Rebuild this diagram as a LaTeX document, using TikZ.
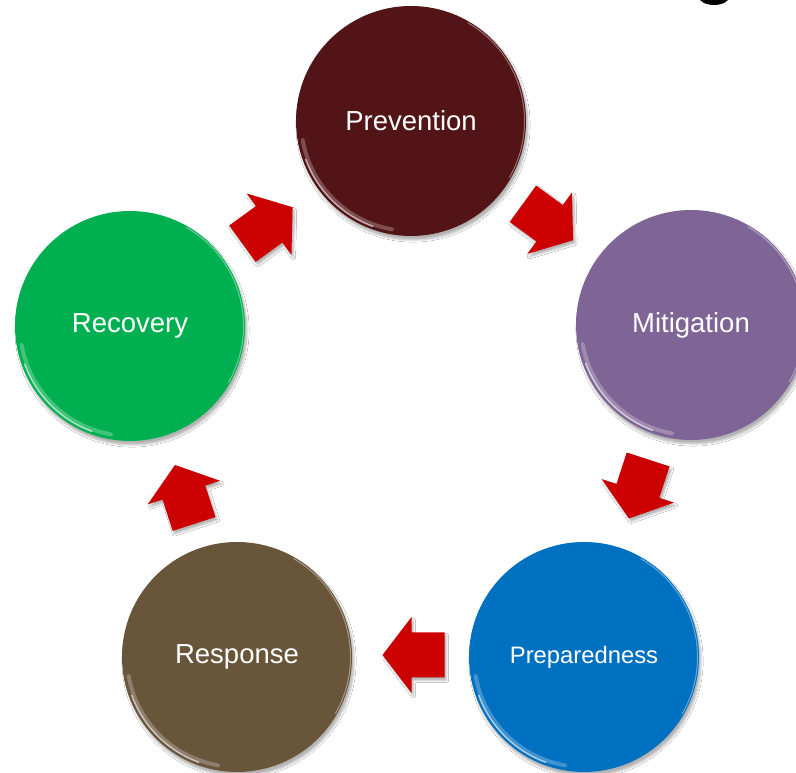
\documentclass[tikz,border=0pt]{standalone}
\usepackage{fontspec}
\setmainfont{Liberation Sans}
\usetikzlibrary{calc,shadows.blur}
\definecolor{cPrev}{RGB}{83,20,23}
\definecolor{cMit}{RGB}{127,101,150}
\definecolor{cPrep}{RGB}{0,112,192}
\definecolor{cResp}{RGB}{104,85,58}
\definecolor{cRec}{RGB}{0,176,80}
\definecolor{cArrow}{RGB}{204,0,0}
\tikzset{
  phase/.style={circle, minimum size=230pt, inner sep=0pt, text=white,
    font=\fontsize{27.5}{33}\selectfont,
    blur shadow={shadow blur steps=6, shadow xshift=2pt, shadow yshift=-4pt, shadow opacity=30}},
  arrowfill/.style={fill=cArrow,
    blur shadow={shadow blur steps=4, shadow xshift=2pt, shadow yshift=-3pt, shadow opacity=30}},
  rimsoft/.style={white, line width=4pt, opacity=0.25, line cap=round},
  rimlow/.style={white, line width=1.5pt, opacity=0.6, line cap=round},
  rimhigh/.style={white, line width=1pt, opacity=0.4, line cap=round},
  cyclearrow/.pic={\path[arrowfill] (-31,-22.5) -- (2,-22.5) -- (2,-38) -- (31,0) -- (2,38) -- (2,22.5) -- (-31,22.5) -- cycle;}
}
\newcommand{\rimglow}[1]{%
  \draw[rimsoft] ($(#1.center)+(190:110)$) arc[start angle=190, end angle=260, radius=110];
  \draw[rimlow] ($(#1.center)+(200:112)$) arc[start angle=200, end angle=250, radius=112];
  \draw[rimhigh] ($(#1.center)+(-30:113.5)$) arc[start angle=-30, end angle=60, radius=113.5];
}
\begin{document}
\begin{tikzpicture}[x=1pt,y=1pt]
\clip (0,0) rectangle (796,773);
\fill[white] (0,0) rectangle (796,773);
% fragment of cut-off title
\fill[black] (714,776) ellipse[x radius=15, y radius=8];
% phases
\node[phase, fill=cPrev] (prev) at (411,652) {\raisebox{-1pt}{Prevention}};
\node[phase, fill=cMit]  (mit)  at (691,448) {\raisebox{-1.5pt}{Mitigation}};
\node[phase, fill=cPrep, font=\fontsize{23.8}{28}\selectfont] (prep) at (584,116) {\raisebox{-1pt}{Preparedness}};
\node[phase, fill=cResp] (resp) at (237,116) {\raisebox{-1pt}{Response}};
\node[phase, fill=cRec]  (rec)  at (130,447) {\raisebox{-1.5pt}{Recovery}};
\foreach \n in {prev,mit,prep,resp,rec}{\rimglow{\n}}
% arrows
\pic[rotate=-36]  at ($(prev)!0.5!(mit)+(-3,1)$) {cyclearrow};
\pic[rotate=-108] at ($(mit)!0.5!(prep)+(1,2)$) {cyclearrow};
\pic[rotate=180]  at ($(prep)!0.5!(resp)+(3,2)$) {cyclearrow};
\pic[rotate=108]  at ($(resp)!0.5!(rec)+(1,-3)$) {cyclearrow};
\pic[rotate=36]   at ($(rec)!0.5!(prev)+(-3,-2)$) {cyclearrow};
\end{tikzpicture}
\end{document}
